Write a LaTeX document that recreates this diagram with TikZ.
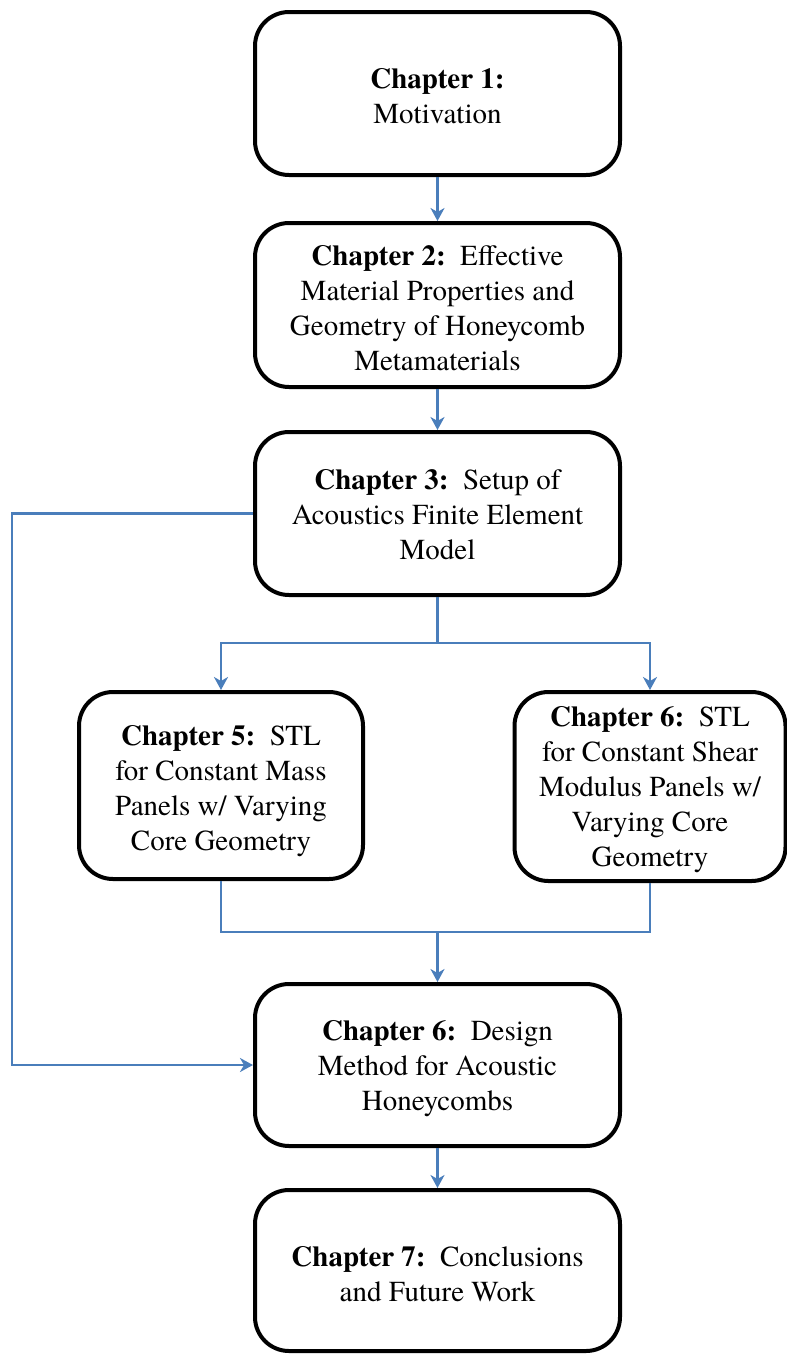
\documentclass[tikz,border=0pt]{standalone}
\usepackage{fontspec}
\setmainfont{texgyretermes}[Extension=.otf, UprightFont=*-regular, BoldFont=*-bold, ItalicFont=*-italic, BoldItalicFont=*-bolditalic]
\usetikzlibrary{arrows.meta}
\definecolor{lnblue}{HTML}{4A7EBB}
\tikzset{
  chap/.style={draw=black, line width=4pt, rounded corners=34pt, inner sep=0pt},
  txt/.style={align=center, font=\fontsize{29}{35}\selectfont, inner sep=0pt},
  conn/.style={draw=lnblue, line width=2.2pt},
  arr/.style={conn, -{Stealth[length=13pt,width=14pt,inset=4pt]}}
}
\begin{document}
\begin{tikzpicture}[x=1pt,y=-1pt]
\useasboundingbox[fill=white] (0,0) rectangle (787,1355);

\node[chap, minimum width=365pt, minimum height=163pt] (b1) at (437.5,93.5) {};
\node[txt] (t1) at ([yshift=-3pt]b1.center) {\textbf{Chapter 1:}\\Motivation};
\node[chap, minimum width=365pt, minimum height=164pt] (b2) at (437.5,305) {};
\node[txt] (t2) at ([yshift=-3pt]b2.center)
  {\textbf{Chapter 2:}\ \ Effective\\Material Properties and\\Geometry of Honeycomb\\Metamaterials};
\node[chap, minimum width=365pt, minimum height=163pt] (b3) at (437.5,513.5) {};
\node[txt] (t3) at ([yshift=-1pt]b3.center)
  {\textbf{Chapter 3:}\ \ Setup of\\Acoustics Finite Element\\Model};
\node[chap, minimum width=284pt, minimum height=187pt] (b5) at (221,785.5) {};
\node[txt] (t5) at ([yshift=-6pt]b5.center)
  {\textbf{Chapter 5:}\ \ STL\\for Constant Mass\\Panels w/ Varying\\Core Geometry};
\node[chap, minimum width=271pt, minimum height=189pt] (b6) at (650,786.5) {};
\node[txt] (t6) at ([yshift=-3pt]b6.center)
  {\textbf{Chapter 6:}\ \ STL\\for Constant Shear\\Modulus Panels w/\\Varying Core\\Geometry};
\node[chap, minimum width=365pt, minimum height=162pt] (bd) at (437.5,1065) {};
\node[txt] (td) at ([yshift=-4pt]bd.center)
  {\textbf{Chapter 6:}\ \ Design\\Method for Acoustic\\Honeycombs};
\node[chap, minimum width=365pt, minimum height=161pt] (b7) at (437.5,1270.5) {};
\node[txt] (t7) at ([yshift=-4pt]b7.center)
  {\textbf{Chapter 7:}\ \ Conclusions\\and Future Work};

\coordinate (lx) at (12,0);
\coordinate (split) at (437.5,643);
\coordinate (merge) at (437.5,932);

\draw[arr] (b1.south) -- (b2.north);
\draw[arr] (b2.south) -- (b3.north);
\draw[arr] (b3.west) -- (b3.west -| lx) |- (bd.west);
\draw[conn] (b3.south) -- (split);
\draw[arr] (split) -| (b5.north);
\draw[arr] (split) -| (b6.north);
\draw[conn] (b5.south) |- (merge);
\draw[conn] (b6.south) |- (merge);
\draw[arr] (merge) -- (bd.north);
\draw[arr] (bd.south) -- (b7.north);
\end{tikzpicture}
\end{document}
